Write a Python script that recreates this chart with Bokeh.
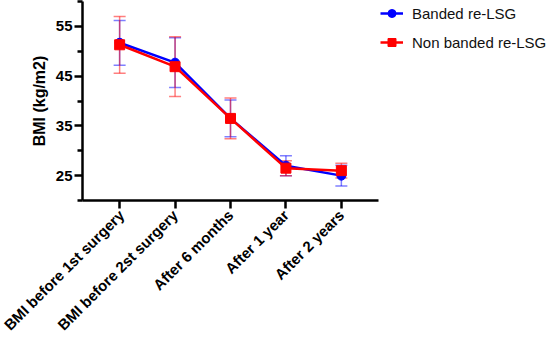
import math
from bokeh.plotting import figure
from bokeh.models import ColumnDataSource, Whisker, FixedTicker, Legend, LegendItem, FactorRange, Range1d, TeeHead
from bokeh.embed import file_html
from bokeh.resources import INLINE

categories = ["BMI before 1st surgery", "BMI before 2st surgery", "After 6 months", "After 1 year", "After 2 years"]
banded_mean = [51.7, 47.7, 36.5, 27.0, 25.0]
banded_sd = [4.5, 5.0, 3.7, 2.0, 2.1]
nonbanded_mean = [51.3, 46.9, 36.5, 26.5, 26.0]
nonbanded_sd = [5.7, 6.0, 4.1, 1.5, 1.5]
y_ticks = [25, 35, 45, 55]
y_minor = [20, 30, 40, 50, 60]

FONT = "Liberation Sans"

p = figure(frame_width=296, frame_height=199, output_backend="svg", toolbar_location=None,
           x_range=FactorRange(*categories, range_padding=0.17, range_padding_units="absolute"),
           y_range=Range1d(20, 60),
           min_border_left=82, min_border_right=0, min_border_top=1, min_border_bottom=139)
p.outline_line_color = None
p.xgrid.visible = False
p.ygrid.visible = False
p.background_fill_color = "white"

def src(mean, sd):
    return ColumnDataSource(dict(x=categories, y=mean,
                                 upper=[m + s for m, s in zip(mean, sd)],
                                 lower=[m - s for m, s in zip(mean, sd)]))

sb = src(banded_mean, banded_sd)
sn = src(nonbanded_mean, nonbanded_sd)

for s, c in [(sb, "#0000ff"), (sn, "#ff0000")]:
    w = Whisker(source=s, base="x", upper="upper", lower="lower",
                line_color=c, line_alpha=0.5, line_width=1.5,
                upper_head=TeeHead(size=12, line_color=c, line_alpha=0.5, line_width=1.5),
                lower_head=TeeHead(size=12, line_color=c, line_alpha=0.5, line_width=1.5))
    p.add_layout(w)

lb = p.line("x", "y", source=sb, line_color="#0000ff", line_width=2.5)
mb = p.scatter("x", "y", source=sb, marker="circle", size=9, fill_color="#0000ff", line_color="#0000ff")
ln = p.line("x", "y", source=sn, line_color="#ff0000", line_width=2.5)
mn = p.scatter("x", "y", source=sn, marker="square", size=10, fill_color="#ff0000", line_color="#ff0000")

# axes
p.yaxis.ticker = FixedTicker(ticks=y_ticks, minor_ticks=y_minor)
p.yaxis.axis_label = "BMI (kg/m2)"
p.yaxis.axis_label_text_font = FONT
p.yaxis.axis_label_text_font_style = "bold"
p.yaxis.axis_label_text_font_size = "16px"
p.yaxis.axis_label_text_color = "black"
p.yaxis.axis_label_standoff = 5
for ax in (p.xaxis[0], p.yaxis[0]):
    ax.axis_line_width = 2.5
    ax.axis_line_color = "black"
    ax.major_tick_line_width = 2.5
    ax.minor_tick_line_width = 2.5
    ax.major_tick_in = 0
    ax.major_tick_out = 8
    ax.minor_tick_in = 0
    ax.minor_tick_out = 5
    ax.major_label_text_font = FONT
    ax.major_label_text_font_style = "bold"
    ax.major_label_text_font_size = "15px"
    ax.major_label_text_color = "black"
    ax.major_label_standoff = 2
p.xaxis.major_label_orientation = math.pi / 4
p.xaxis.major_label_standoff = 4

legend = Legend(items=[LegendItem(label="Banded re-LSG", renderers=[lb, mb]),
                       LegendItem(label="Non banded re-LSG", renderers=[ln, mn])],
                location="top_left", padding=0, margin=2, spacing=9,
                glyph_width=23, glyph_height=20, label_height=20, label_standoff=9,
                label_text_font=FONT, label_text_font_size="15px", label_text_color="#111111",
                border_line_color=None, background_fill_alpha=0)
p.add_layout(legend, "right")

open("out.html", "w").write(file_html(p, INLINE))
